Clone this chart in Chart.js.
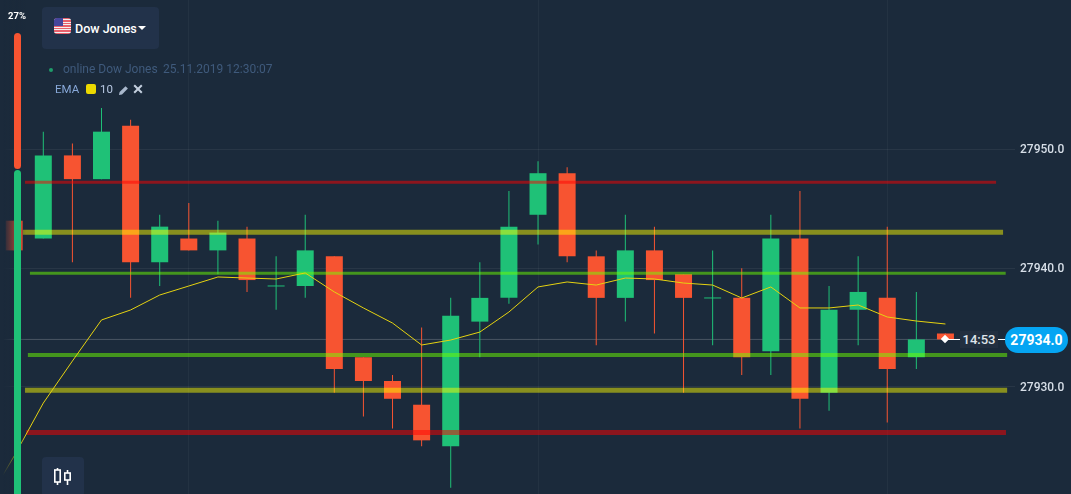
<!DOCTYPE html>
<html>
<head>
<meta charset="utf-8">
<title>Dow Jones</title>
<script src="https://cdn.jsdelivr.net/npm/chart.js@4/dist/chart.umd.min.js"></script>
<style>
  html, body { margin: 0; padding: 0; background: #1b2a3b; }
  body { font-family: Roboto, sans-serif; }
  #stage { position: relative; width: 1071px; height: 494px; overflow: hidden; background: #1b2a3b; }
  #chart { position: absolute; left: 0; top: 0; }
  .abs { position: absolute; white-space: nowrap; }
  #fade { left: 0; top: 0; width: 26px; height: 494px; background: linear-gradient(to right, #1b2a3b 12%, rgba(27, 42, 59, 0) 100%); }
  #pct { left: 8px; top: 10px; font-size: 9.5px; font-weight: 700; color: #fff; }
  #barUp { left: 14px; top: 33px; width: 7px; height: 136px; border-radius: 4px; background: #f75431; }
  #barDown { left: 14px; top: 170px; width: 7px; height: 340px; border-radius: 4px; background: #1fc177; }
  #picker { left: 42px; top: 7px; width: 117px; height: 42px; border-radius: 4px; background: #22324a; }
  #flag { left: 54px; top: 18px; width: 17px; height: 16px; border-radius: 3px; overflow: hidden;
    background: repeating-linear-gradient(to bottom, #e8606c 0, #e8606c 1.3px, #f4f0f0 1.3px, #f4f0f0 2.5px); }
  #canton { left: 0; top: 0; width: 9px; height: 8px; background: #46469c; }
  #pickerText { left: 75px; top: 21px; font-size: 12.5px; font-weight: 500; color: #fff; }
  #caret { left: 138px; top: 26px; width: 0; height: 0; border-left: 4px solid transparent; border-right: 4px solid transparent; border-top: 4px solid #fff; }
  #onlineDot { left: 49px; top: 68px; width: 4px; height: 4px; border-radius: 50%; background: #1f9c6a; }
  #online { left: 63px; top: 62px; font-size: 12px; color: #3f5a7c; }
  #stamp { left: 163px; top: 62px; font-size: 12px; color: #3f5a7c; }
  #emaName { left: 55px; top: 82px; font-size: 11.5px; color: #87a8d8; }
  #emaSwatch { left: 86px; top: 84px; width: 10px; height: 10px; border-radius: 2px; background: #ecd900; }
  #emaPeriod { left: 100px; top: 82px; font-size: 11.5px; color: #b8c8e2; }
  #pencil { left: 118px; top: 85px; }
  #cross { left: 133px; top: 84px; }
  #typeBtn { left: 42px; top: 457px; width: 42px; height: 40px; border-radius: 4px; background: #22324a; }
  #typeIcon { left: 53px; top: 467px; }
  #lineA { left: 945px; top: 339px; width: 15px; height: 1px; background: #fff; }
  #lineB { left: 998px; top: 339px; width: 8px; height: 1px; background: #fff; }
  #dot { left: 942px; top: 336px; width: 6px; height: 6px; background: #fff; transform: rotate(45deg); }
  #timer { left: 960px; top: 331px; width: 38px; height: 17px; line-height: 17px; text-align: center; background: #222f40; font-size: 13px; font-weight: 500; color: #dfe4ea; }
  #pill { left: 1005px; top: 327px; width: 63px; height: 26px; line-height: 27px; border-radius: 13px; text-align: center; background: #05a5f3; font-size: 14px; font-weight: 700; color: #fff; }
</style>
</head>
<body>
<div id="stage">
  <canvas id="chart" width="1071" height="494"></canvas>
  <div class="abs" id="fade"></div>
  <div class="abs" id="barUp"></div>
  <div class="abs" id="barDown"></div>
  <div class="abs" id="pct">27%</div>
  <div class="abs" id="picker"></div>
  <div class="abs" id="flag"><div class="abs" id="canton"></div></div>
  <div class="abs" id="pickerText">Dow Jones</div>
  <div class="abs" id="caret"></div>
  <div class="abs" id="onlineDot"></div>
  <div class="abs" id="online">online Dow Jones</div>
  <div class="abs" id="stamp">25.11.2019 12:30:07</div>
  <div class="abs" id="emaName">EMA</div>
  <div class="abs" id="emaSwatch"></div>
  <div class="abs" id="emaPeriod">10</div>
  <svg class="abs" id="pencil" width="11" height="11" viewBox="0 0 11 11"><path d="M1 10l.6-3L7.5 1.2l2.4 2.4L4 9.4z" fill="#a9b8cc"/></svg>
  <svg class="abs" id="cross" width="10" height="10" viewBox="0 0 10 10"><path d="M1.2 1.2l7.6 7.6M8.8 1.2L1.2 8.8" stroke="#c3cfde" stroke-width="2"/></svg>
  <div class="abs" id="typeBtn"></div>
  <svg class="abs" id="typeIcon" width="20" height="20" viewBox="0 0 20 20" fill="none" stroke="#fff" stroke-width="1.6">
    <rect x="1.8" y="3" width="5.4" height="12"/><path d="M4.5 1v2M4.5 15v3"/>
    <rect x="11.8" y="6" width="5.4" height="7"/><path d="M14.5 3v3M14.5 13v5"/>
  </svg>
  <div class="abs" id="lineA"></div>
  <div class="abs" id="lineB"></div>
  <div class="abs" id="dot"></div>
  <div class="abs" id="timer">14:53</div>
  <div class="abs" id="pill">27934.0</div>
</div>

<script>
const firstCandleSlot = -1;
const opens = [27944, 27942.5, 27949.5, 27947.5, 27952, 27940.5, 27942.5, 27941.5, 27942.5, 27938.46, 27938.5, 27941, 27932.5, 27930.5, 27928.5, 27925, 27935.5, 27937.5, 27944.5, 27948, 27941, 27937.5, 27941.5, 27939.5, 27937.45, 27937.5, 27933, 27942.5, 27929.5, 27936.5, 27937.5, 27932.5, 27934.5];
const closes = [27941.5, 27949.5, 27947.5, 27951.5, 27940.5, 27943.5, 27941.5, 27943, 27939, 27938.46, 27941.5, 27931.5, 27930.5, 27929, 27925.5, 27936, 27937.5, 27943.5, 27948, 27941, 27937.5, 27941.5, 27939, 27937.5, 27937.45, 27932.5, 27942.5, 27929, 27936.5, 27938, 27931.5, 27934, 27934];
const highs = [27944, 27951.5, 27950.5, 27953.5, 27952.5, 27944.5, 27945.5, 27944, 27943.5, 27941, 27944.5, 27941, 27932.5, 27931, 27935, 27937.5, 27940.5, 27946.5, 27949, 27948.5, 27941.5, 27944.5, 27943.5, 27939.5, 27941.5, 27940, 27944.5, 27946.5, 27938.5, 27941, 27943.5, 27938, 27934.5];
const lows = [27941.5, 27942.5, 27940.5, 27947.5, 27937.5, 27938.5, 27941.5, 27939.5, 27938, 27936.5, 27937.5, 27929.5, 27927.5, 27926.5, 27925, 27921.5, 27932.5, 27937, 27942, 27940.5, 27933.5, 27935.5, 27934.5, 27929.5, 27933.5, 27931, 27931, 27926.5, 27928, 27933.5, 27927, 27931.5, 27934];

const firstEmaSlot = -2;
const emaValues = [27920.05, 27924.18, 27928.64, 27932.18, 27935.64, 27936.48, 27937.74, 27938.5, 27939.26, 27939.17, 27939.09, 27939.6, 27938, 27936.65, 27935.38, 27933.53, 27933.95, 27934.62, 27936.31, 27938.42, 27938.84, 27938.58, 27939.17, 27939.09, 27938.75, 27938.58, 27937.49, 27938.42, 27936.65, 27936.65, 27936.9, 27935.89, 27935.55, 27935.3];

const levelValues = [27947.24, 27943.02, 27939.57, 27932.69, 27929.71, 27926.17];
const levelStarts = [-0.63, -0.7, -0.46, -0.53, -0.63, -0.59];
const levelEnds = [32.74, 32.98, 33.07, 33.12, 33.12, 33.08];

const lastPrice = 27934;
const lastPriceSpan = [-2, 33.05];
const priceTicks = [27930, 27940, 27950];
const timeTicks = [5, 17, 29];

const UP = '#1fc177';
const DOWN = '#f75431';
const RED_LEVEL = 'rgba(255, 0, 0, 0.5)';
const YELLOW_LEVEL = 'rgba(255, 255, 0, 0.48)';
const GREEN_LEVEL = 'rgba(110, 255, 0, 0.5)';
const levelColors = [RED_LEVEL, YELLOW_LEVEL, GREEN_LEVEL, GREEN_LEVEL, YELLOW_LEVEL, RED_LEVEL];
const levelWidths = [3, 5, 3, 4, 5, 5];

const candleColors = opens.map((open, i) => (closes[i] >= open ? UP : DOWN));

const levelDatasets = levelValues.map((value, i) => ({
  type: 'line',
  data: [{ x: levelStarts[i], y: value }, { x: levelEnds[i], y: value }],
  borderColor: levelColors[i],
  borderWidth: levelWidths[i],
  pointRadius: 0,
  borderCapStyle: 'butt',
  order: 3,
}));

new Chart(document.getElementById('chart'), {
  data: {
    datasets: [
      {
        type: 'line',
        data: lastPriceSpan.map((x) => ({ x, y: lastPrice })),
        borderColor: 'rgba(255, 255, 255, 0.2)',
        borderWidth: 1,
        pointRadius: 0,
        order: 6,
      },
      {
        type: 'bar',
        data: highs.map((high, i) => ({ x: firstCandleSlot + i, y: [lows[i], high] })),
        backgroundColor: candleColors,
        barThickness: 1,
        grouped: false,
        order: 5,
      },
      {
        type: 'bar',
        data: opens.map((open, i) => ({ x: firstCandleSlot + i, y: [open, closes[i]] })),
        backgroundColor: candleColors,
        barThickness: 17,
        minBarLength: 1,
        grouped: false,
        order: 4,
      },
      ...levelDatasets,
      {
        type: 'line',
        data: emaValues.map((value, i) => ({ x: firstEmaSlot + i, y: value })),
        borderColor: '#e6d311',
        borderWidth: 1,
        pointRadius: 0,
        tension: 0,
        order: 1,
      },
    ],
  },
  options: {
    responsive: false,
    animation: false,
    maintainAspectRatio: false,
    layout: { padding: 0 },
    elements: { bar: { inflateAmount: 0, borderWidth: 0 } },
    plugins: { legend: { display: false }, tooltip: { enabled: false } },
    scales: {
      x: {
        type: 'linear',
        offset: false,
        min: -1.488,
        max: 33.39,
        border: { display: false },
        grid: { color: 'rgba(255, 255, 255, 0.04)', drawTicks: false, offset: false },
        ticks: { display: false },
        afterBuildTicks(axis) {
          axis.ticks = timeTicks.map((value) => ({ value }));
        },
        afterFit(axis) {
          axis.height = 0;
        },
      },
      y: {
        position: 'right',
        min: 27920.98,
        max: 27962.59,
        border: { display: false },
        grid: { color: 'rgba(255, 255, 255, 0.06)', drawTicks: false },
        ticks: {
          color: '#d7dfe8',
          padding: 5,
          labelOffset: 1,
          font: { family: 'Roboto', size: 12, weight: '500' },
          callback: (value) => value.toFixed(1),
        },
        afterBuildTicks(axis) {
          axis.ticks = priceTicks.map((value) => ({ value }));
        },
        afterFit(axis) {
          axis.width = 56;
          axis.paddingTop = 0;
          axis.paddingBottom = 0;
        },
      },
    },
  },
});
</script>
</body>
</html>
